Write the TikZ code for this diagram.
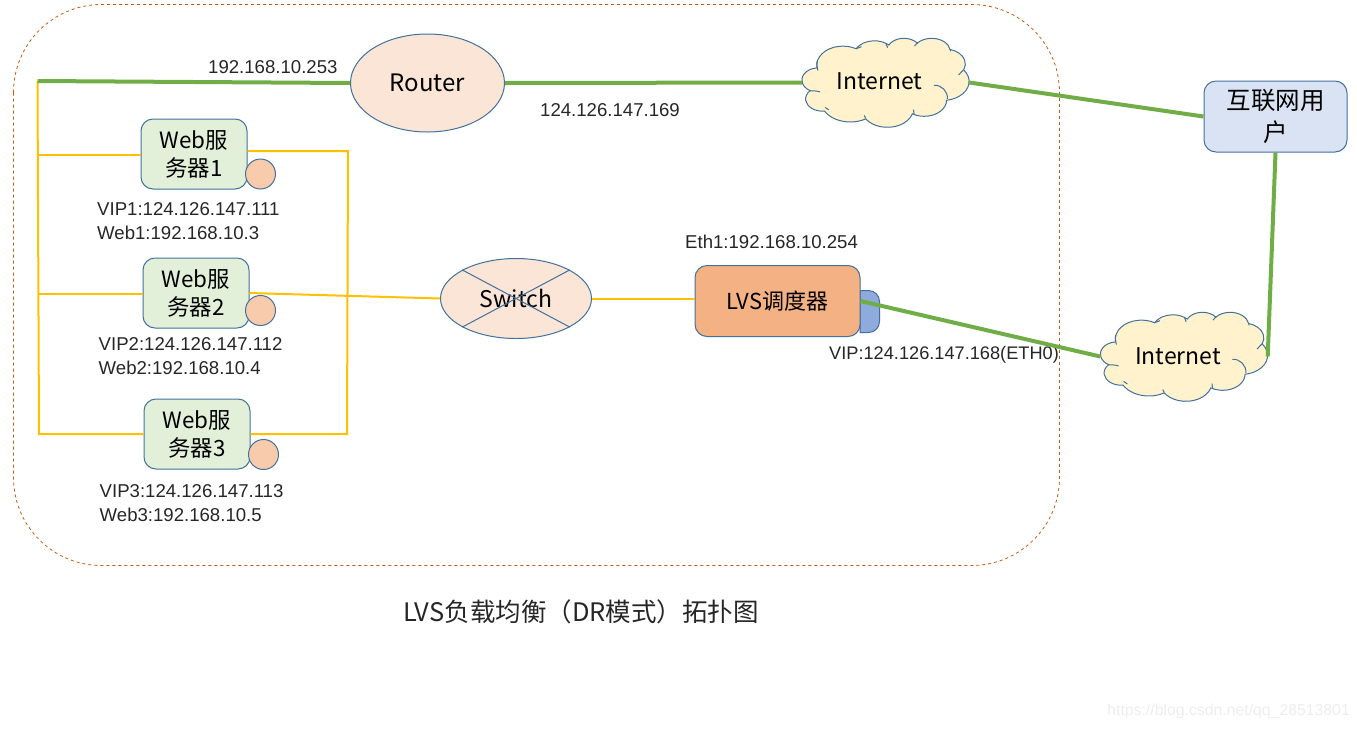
\documentclass[tikz,border=0pt]{standalone}
\usepackage{fontspec}
\setmainfont{Noto Sans CJK SC}
\newfontfamily\ipfont{Liberation Sans}
\usetikzlibrary{shapes.geometric}
\definecolor{outline}{HTML}{41719C}
\definecolor{zonecolor}{HTML}{C55A11}
\definecolor{wangreen}{HTML}{70AD47}
\definecolor{lanyellow}{HTML}{FFC000}
\definecolor{webfill}{HTML}{E2F0D9}
\definecolor{dotfill}{HTML}{F8CBAD}
\definecolor{ovalfill}{HTML}{FBE5D6}
\definecolor{cloudfill}{HTML}{FFF2CC}
\definecolor{lvsfill}{HTML}{F4B183}
\definecolor{tabfill}{HTML}{8FAADC}
\definecolor{userfill}{HTML}{DAE3F3}
\tikzset{
  webbox/.style={draw=outline, line width=1pt, fill=webfill, rounded corners=12pt, minimum width=106pt, minimum height=70pt,
    inner sep=0pt, align=center, font=\fontsize{22.4}{28}\selectfont},
  vipdot/.style={circle, draw=outline, line width=1pt, fill=dotfill, minimum size=30pt, inner sep=0pt},
  ovalbox/.style={ellipse, draw=outline, line width=1pt, fill=ovalfill, inner sep=0pt, font=\fontsize{24}{28}\selectfont},
  cloudtext/.style={font=\fontsize{23}{28}\selectfont},
  iplabel/.style={anchor=west, align=left, inner sep=0pt, font=\ipfont\fontsize{18.6}{24}\selectfont, text=black!85},
  wan/.style={wangreen, line width=4pt},
  lan/.style={lanyellow, line width=2pt},
  puff/.code n args={4}{
    \pgfmathsetmacro\pufffrom{atan2(#1*sin(#3),#2*cos(#3))}
    \pgfmathsetmacro\puffto{atan2(#1*sin(#3+#4),#2*cos(#3+#4))}
    \pgfmathsetmacro\puffspan{mod(\puffto-\pufffrom+720,360)}
    \tikzset{start angle=\pufffrom, delta angle=\puffspan, x radius=#1, y radius=#2}},
  netcloud/.pic={
    \begin{scope}[x=0.03866pt, y=-0.0206pt, shift={(-2160,-2160)}]
      \draw[outline, line width=1pt, fill=cloudfill] (390,1437)
        arc[puff={{675.3}{919}{-190.487}{123.781}}]
        arc[puff={{533.3}{726.7}{-144.102}{89.945}}]
        arc[puff={{436.5}{594.5}{-145.808}{99.723}}]
        arc[puff={{485.7}{659.5}{-130.986}{117.242}}]
        arc[puff={{533.3}{727.3}{-78.709}{109.027}}]
        arc[puff={{677.5}{922}{-46.267}{130.269}}]
        arc[puff={{578.5}{786.7}{0.625}{114.033}}]
        arc[puff={{675.2}{921.5}{22.452}{115.173}}]
        arc[puff={{772}{1054.3}{66.243}{75.711}}]
        arc[puff={{436}{591.8}{-274.942}{146.736}}]
        arc[puff={{434.5}{594.5}{-246.829}{152.519}}]
        -- cycle;
      \draw[outline, line width=1pt] (412.7,1578.9) to[bend left=15] (390,1116);
      \draw[outline, line width=1pt] (469.3,2617.7) to[bend right=10] (190,2573);
      \draw[outline, line width=1pt] (692.8,3489.9) to[bend right=10] (600,3370);
      \draw[outline, line width=1pt] (1647.8,3909) to[bend left=10] (1610,3760);
      \draw[outline, line width=1pt] (2882.7,3475.1) to[bend right=10] (2900,3700);
      \draw[outline, line width=1pt] (3412.9,2295.4) to[bend left=50] (3760,2950);
      \draw[outline, line width=1pt] (4179.8,1535.4) to[bend left=10] (4050,1796);
      \draw[outline, line width=1pt] (3832.4,542.6) to[bend right=10] (3840,650);
      \draw[outline, line width=1pt] (2907.8,395.2) to[bend left=10] (2999,210);
      \draw[outline, line width=1pt] (2214.1,472) to[bend right=10] (2170,250);
      \draw[outline, line width=1pt] (1400,519.2) to[bend left=10] (1540,420);
    \end{scope}
    \node[minimum width=167pt, minimum height=90pt, inner sep=0pt] (-box) at (0,0) {};
  },
}
\begin{document}
\begin{tikzpicture}[x=1pt, y=-1pt]
  \useasboundingbox (0,0) rectangle (1357,729);
  \draw[zonecolor, dashed, line width=0.8pt, rounded corners=88pt] (13.5,4.5) rectangle (1059.5,565.5);

  % servers
  \node[webbox] (web1) at (194,154) {Web服\\务器1};
  \node[webbox] (web2) at (196,293) {Web服\\务器2};
  \node[webbox] (web3) at (197,434) {Web服\\务器3};
  \node[vipdot] (dot1) at (260.5,174) {};
  \node[vipdot] (dot2) at (260.5,310.5) {};
  \node[vipdot] (dot3) at (263.5,454.5) {};
  \node[iplabel] (ip1) at (97,221) {VIP1:124.126.147.111\\Web1:192.168.10.3};
  \node[iplabel] (ip2) at (98.5,356.5) {VIP2:124.126.147.112\\Web2:192.168.10.4};
  \node[iplabel] (ip3) at (99.5,503.5) {VIP3:124.126.147.113\\Web3:192.168.10.5};

  % middle row
  \node[ovalbox, minimum width=154pt, minimum height=98pt] (router) at (427.5,83) {Router};
  \node[ovalbox, minimum width=151pt, minimum height=80pt, font=\fontsize{23}{28}\selectfont] (switch) at (516,298.5) {Switch};
  \draw[outline, line width=1pt] (switch.152) -- (switch.-28);
  \draw[outline, line width=1pt] (switch.28) -- (switch.-152);
  \draw[outline, line width=1pt, fill=tabfill] (860,290.5) [rounded corners=11pt] -- (879.5,290.5) -- (879.5,332.5) [sharp corners] -- (860,332.5) -- cycle;
  \node[draw=outline, line width=1pt, fill=lvsfill, rounded corners=12pt, minimum width=165pt, minimum height=71pt, inner sep=0pt,
    font=\fontsize{22}{28}\selectfont] (lvs) at (777.5,301) {LVS调度器};
  \node[draw=outline, line width=1pt, fill=userfill, rounded corners=12pt, minimum width=143pt, minimum height=71pt, inner sep=0pt,
    align=center, font=\fontsize{24.5}{32}\selectfont] (user) at (1275.5,116.5) {互联网用\\户};

  % clouds
  \pic (cloud1) at (885.5,82.5) {netcloud};
  \node[cloudtext] (net1) at (879.5,81.5) {Internet};
  \pic (cloud2) at (1184,356.5) {netcloud};
  \node[cloudtext] (net2) at (1178,356) {Internet};

  \node[iplabel] (routerlan) at (208,67) {192.168.10.253};
  \node[iplabel] (routerwan) at (540,110) {124.126.147.169};
  \node[iplabel] (lvseth) at (685,241.5) {Eth1:192.168.10.254};
  \node[iplabel, font=\ipfont\fontsize{18.2}{24}\selectfont] (lvsvip) at (829,355) {VIP:124.126.147.168(ETH0)};

  % lan lines
  \coordinate (trunktop) at (37.5,81);
  \coordinate (trunkweb1) at (38,155);
  \coordinate (trunkweb2) at (38.5,294);
  \coordinate (trunkbottom) at (39,434);
  \coordinate (railtop) at (348,151);
  \coordinate (railbottom) at (347,434);
  \draw[lan] (trunktop) -- (trunkbottom) -- (web3.west);
  \draw[lan] (trunkweb1) -- (trunkweb1 -| web1.west);
  \draw[lan] (trunkweb2) -- (trunkweb2 -| web2.west);
  \draw[lan] (railtop -| web1.east) -- (railtop) -- (railbottom) -- (web3.east);
  \draw[lan] (web2.east) -- (switch.west);
  \draw[lan] (switch.east) -- (switch.east -| lvs.west);

  % wan lines
  \draw[wan] (trunktop) -- (router.west);
  \draw[wan] (router.east) -- (cloud1-box.west);
  \draw[wan] (cloud1-box.east) -- (user.west);
  \draw[wan] (user.south) -- (cloud2-box.east);
  \draw[wan] (lvs.east) -- (cloud2-box.west);

  \node[font=\fontsize{25.5}{30}\selectfont, text=black!85] (title) at (581,611.5) {LVS负载均衡（DR模式）拓扑图};
  \node[font=\ipfont\fontsize{15.8}{20}\selectfont, text=black!7, anchor=east, inner sep=0pt] (mark) at (1350,711) {https://blog.csdn.net/qq\_28513801};
\end{tikzpicture}
\end{document}
